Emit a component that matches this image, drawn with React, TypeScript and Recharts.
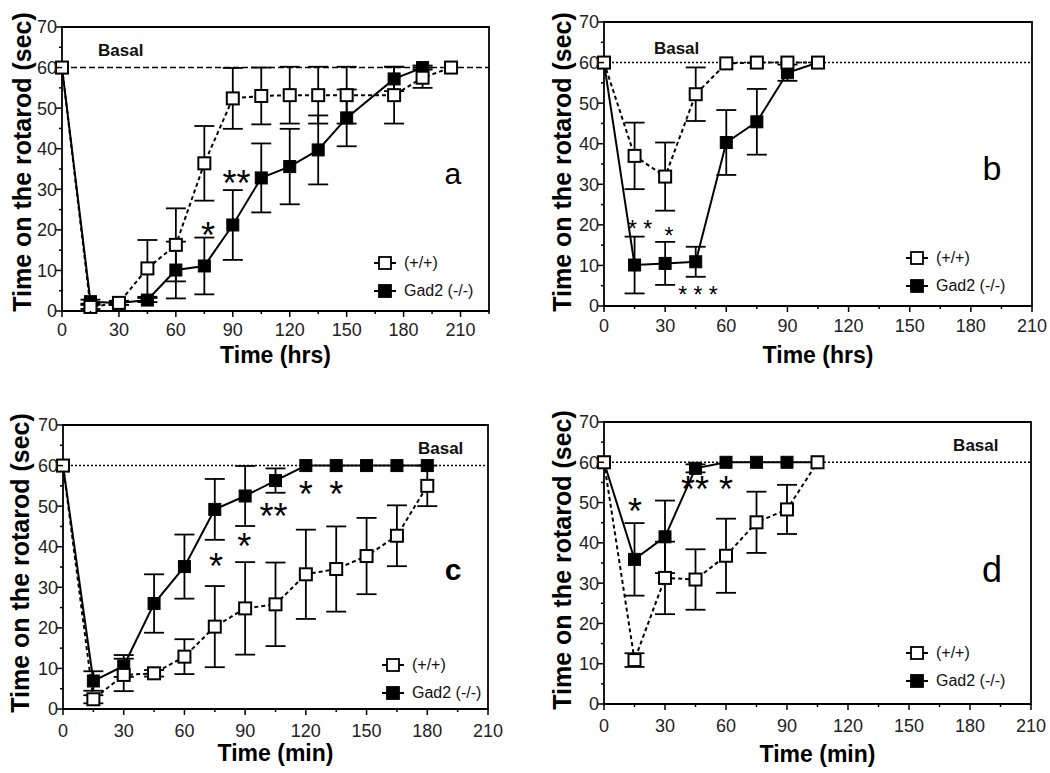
import React from "react";
import {
  LineChart,
  Line,
  XAxis,
  YAxis,
  ErrorBar,
  ReferenceLine,
  ReferenceArea,
  ReferenceDot,
  Legend,
  Label,
} from "recharts";

const FONT = "'Liberation Sans', Arial, Helvetica, sans-serif";

const seriesNames = ["(+/+)", "Gad2 (-/-)"];

// panel a (hrs)
const timeA = [0, 15, 30, 45, 60, 75, 90, 105, 120, 135, 150, 175, 190, 205];
const wtA = [60, 1, 2, 10.5, 16.3, 36.4, 52.4, 53, 53.2, 53.2, 53.2, 53.2, 57.5, 60];
const wtErrA = [0, 0.5, 0.5, 7, 9, 9.2, 7.5, 7, 7, 7, 7, 7, 2.5, 0];
const koA = [60, 2.3, 2, 2.7, 10.1, 11.1, 21.2, 32.8, 35.6, 39.7, 47.6, 57.2, 60, null];
const koErrA = [0, 0.5, 0.5, 0.5, 7, 7, 8.6, 8.5, 9.3, 8.5, 7, 3, 0.5, null];

// panel b (hrs)
const timeB = [0, 15, 30, 45, 60, 75, 90, 105];
const wtB = [60, 37, 31.9, 52.2, 59.8, 60, 60, 60];
const wtErrB = [0, 8.2, 8.4, 6.6, 0, 0, 0, 0];
const koB = [60, 10.1, 10.5, 10.9, 40.3, 45.4, 57.5, 60];
const koErrB = [0, 7, 5.3, 3.7, 8, 8.1, 2, 0];

// panel c (min)
const timeC = [0, 15, 30, 45, 60, 75, 90, 105, 120, 135, 150, 165, 180];
const wtC = [60, 2.4, 8.4, 8.8, 12.9, 20.3, 24.8, 25.8, 33.2, 34.5, 37.7, 42.7, 55];
const wtErrC = [0, 1, 4, 0.8, 4.3, 10, 11.4, 10.3, 11, 10.5, 9.4, 7.5, 5];
const koC = [60, 6.9, 10.6, 26, 35.1, 49.2, 52.5, 56.3, 60, 60, 60, 60, 60];
const koErrC = [0, 2.4, 2.7, 7.2, 7.9, 7.5, 7.4, 3, 0, 0, 0, 0, 0];

// panel d (min)
const timeD = [0, 15, 30, 45, 60, 75, 90, 105];
const wtD = [60, 10.9, 31.3, 30.9, 36.8, 45.1, 48.3, 60];
const wtErrD = [0, 1.7, 9, 7.5, 9.2, 7.6, 6.1, 0];
const koD = [60, 35.9, 41.5, 58.5, 60, 60, 60, 60];
const koErrD = [0, 9, 9, 1, 0, 0, 0, 0];

// significance marks: [x, y, text]
const starsA: [number, number, string][] = [[77, 20.7, "*"], [92, 33.5, "**"]];
const starsB: [number, number, string][] = [[17.7, 20.2, "* *"], [31.9, 18.6, "*"], [46.1, 4.1, "* * *"]];
const starsC: [number, number, string][] = [[75.6, 37.2, "*"], [89.6, 42.1, "*"], [104, 49.5, "**"], [120, 55, "*"], [135, 55, "*"]];
const starsD: [number, number, string][] = [[15.2, 49.9, "*"], [44.8, 55.4, "**"], [60, 55.4, "*"]];

const yTicks = [0, 5, 10, 15, 20, 25, 30, 35, 40, 45, 50, 55, 60, 65, 70];

const rows = (t: number[], wt: (number | null)[], wtErr: (number | null)[], ko: (number | null)[], koErr: (number | null)[]) =>
  t.map((x, i) => ({ t: x, wt: wt[i], wtErr: wtErr[i], ko: ko[i], koErr: koErr[i] }));

const panels = [
  {
    id: "a", left: 0, top: 0, w: 525, h: 386, plot: { l: 62, t: 27, r: 489, b: 311 }, xMax: 225,
    unit: "Time (hrs)", data: rows(timeA, wtA, wtErrA, koA, koErrA), refDash: "6 3",
    letter: { x: 206, y: 34, size: 30, bold: false }, basal: [19, 64.3], stars: starsA, starSize: 36,
    legend: { x: 385, y: 263 }, yLabel: { x: 22, dy: -7 }, xBase: 363, tickDy: 25,
  },
  {
    id: "b", left: 530, top: 0, w: 520, h: 386, plot: { l: 604, t: 22, r: 1032, b: 306 }, xMax: 210,
    unit: "Time (hrs)", data: rows(timeB, wtB, wtErrB, koB, koErrB), refDash: "2 2",
    letter: { x: 190.4, y: 34, size: 34, bold: false }, basal: [24.5, 63.6], stars: starsB, starSize: 23,
    legend: { x: 917, y: 258 }, yLabel: { x: 562, dy: -2 }, xBase: 363, tickDy: 26,
  },
  {
    id: "c", left: 0, top: 386, w: 525, h: 387, plot: { l: 63, t: 425, r: 488, b: 709 }, xMax: 210,
    unit: "Time (min)", data: rows(timeC, wtC, wtErrC, koC, koErrC), refDash: "2 2",
    letter: { x: 192.7, y: 34.5, size: 30, bold: true }, basal: [175.4, 64.3], stars: starsC, starSize: 36,
    legend: { x: 393, y: 665 }, yLabel: { x: 20, dy: -4 }, xBase: 761, tickDy: 28,
  },
  {
    id: "d", left: 530, top: 386, w: 520, h: 387, plot: { l: 604, t: 422, r: 1031, b: 704 }, xMax: 210,
    unit: "Time (min)", data: rows(timeD, wtD, wtErrD, koD, koErrD), refDash: "2 2",
    letter: { x: 190.8, y: 33.4, size: 36, bold: false }, basal: [171.7, 64.3], stars: starsD, starSize: 36,
    legend: { x: 917, y: 653 }, yLabel: { x: 562, dy: -3 }, xBase: 762, tickDy: 28,
  },
];

const YTick = (props: any) => {
  const { x, y, payload } = props;
  const v = payload.value;
  const major = v % 10 === 0;
  return (
    <g>
      <line x1={x} x2={x - (major ? 6 : 3)} y1={y} y2={y} stroke="#000" strokeWidth={1.5} />
      {major && (
        <text x={x - 5} y={y + 6.4} textAnchor="end" fontSize={18} fontFamily={FONT} fill="#222">
          {v}
        </text>
      )}
    </g>
  );
};

const makeXTick = (dy: number) => (props: any) => {
  const { x, y, payload } = props;
  const v = payload.value;
  const major = v % 30 === 0 && v <= 210;
  return (
    <g>
      <line x1={x} x2={x} y1={y} y2={y + (major ? 6 : 3)} stroke="#000" strokeWidth={1.5} />
      {major && (
        <text x={x} y={y + dy} textAnchor="middle" fontSize={18} fontFamily={FONT} fill="#222">
          {v}
        </text>
      )}
    </g>
  );
};

const openDot = (p: any) =>
  p.cx == null || p.cy == null || p.value == null ? (
    <g key={`o${p.index}`} />
  ) : (
    <rect key={`o${p.index}`} x={p.cx - 6} y={p.cy - 6} width={12} height={12} fill="#fff" stroke="#000" strokeWidth={2} />
  );

const filledDot = (p: any) =>
  p.cx == null || p.cy == null || p.value == null ? (
    <g key={`f${p.index}`} />
  ) : (
    <rect key={`f${p.index}`} x={p.cx - 6} y={p.cy - 6} width={12} height={12} fill="#000" stroke="#000" strokeWidth={1} />
  );

const LegendBox = () => (
  <div style={{ fontFamily: FONT, fontSize: 16, color: "#111" }}>
    {seriesNames.map((name, i) => (
      <div key={name} style={{ display: "flex", alignItems: "center", height: 28, whiteSpace: "nowrap" }}>
        <svg width={22} height={14} style={{ marginRight: 8 }}>
          <line x1={0} x2={22} y1={7} y2={7} stroke="#000" strokeWidth={2} />
          <rect x={5} y={1} width={12} height={12} fill={i === 0 ? "#fff" : "#000"} stroke="#000" strokeWidth={1.8} />
        </svg>
        <span>{name}</span>
      </div>
    ))}
  </div>
);

function Panel({ cfg }: { cfg: (typeof panels)[number] }) {
  const { plot } = cfg;
  const margin = {
    top: plot.t - cfg.top,
    right: cfg.left + cfg.w - plot.r,
    left: 0,
    bottom: 0,
  };
  const yWidth = plot.l - cfg.left;
  const xHeight = cfg.top + cfg.h - plot.b;
  const xTicks: number[] = [];
  for (let v = 0; v <= cfg.xMax; v += 15) xTicks.push(v);

  return (
    <div style={{ position: "absolute", left: cfg.left, top: cfg.top }}>
      <LineChart width={cfg.w} height={cfg.h} data={cfg.data} margin={margin}>
        <XAxis
          dataKey="t"
          type="number"
          domain={[0, cfg.xMax]}
          ticks={xTicks}
          interval={0}
          tickSize={0}
          tickMargin={0}
          height={xHeight}
          axisLine={false}
          tickLine={false}
          tick={makeXTick(cfg.tickDy)}
        >
          <Label
            value={cfg.unit}
            position="insideBottom"
            offset={cfg.top + cfg.h - cfg.xBase}
            fontSize={23}
            fontWeight="bold"
            fontFamily={FONT}
            fill="#000"
          />
        </XAxis>
        <YAxis
          type="number"
          domain={[0, 70]}
          ticks={yTicks}
          interval={0}
          tickSize={0}
          tickMargin={0}
          width={yWidth}
          axisLine={false}
          tickLine={false}
          tick={<YTick />}
        >
          <Label
            value="Time on the rotarod (sec)"
            position="insideLeft"
            angle={-90}
            offset={cfg.yLabel.x - cfg.left}
            dy={cfg.yLabel.dy}
            fontSize={25}
            fontWeight="bold"
            fontFamily={FONT}
            fill="#000"
            style={{ textAnchor: "middle" }}
          />
        </YAxis>
        <ReferenceArea x1={0} x2={cfg.xMax} y1={0} y2={70} fill="none" stroke="#000" strokeWidth={1.8} fillOpacity={0} />
        <ReferenceLine y={60} stroke="#000" strokeWidth={1.5} strokeDasharray={cfg.refDash} />
        <ReferenceDot
          x={cfg.basal[0]}
          y={cfg.basal[1]}
          r={0}
          fill="none"
          stroke="none"
          label={{ value: "Basal", position: "right", offset: 0, fontSize: 17, fontWeight: "bold", fontFamily: FONT, fill: "#111" }}
        />
        <ReferenceDot
          x={cfg.letter.x}
          y={cfg.letter.y}
          r={0}
          fill="none"
          stroke="none"
          label={{
            value: cfg.id,
            position: "center",
            fontSize: cfg.letter.size,
            fontWeight: cfg.letter.bold ? "bold" : "normal",
            fontFamily: FONT,
            fill: "#000",
          }}
        />
        {cfg.stars.map(([sx, sy, txt], i) => (
          <ReferenceDot
            key={`s${i}`}
            x={sx}
            y={sy}
            r={0}
            fill="none"
            stroke="none"
            label={{
              value: txt,
              position: "center",
              dy: cfg.starSize * 0.225,
              fontSize: cfg.starSize,
              fontFamily: FONT,
              fill: "#000",
            }}
          />
        ))}
        <Line
          dataKey="ko"
          name={seriesNames[1]}
          type="linear"
          stroke="#000"
          strokeWidth={2}
          dot={filledDot}
          activeDot={false}
          isAnimationActive={false}
        >
          <ErrorBar dataKey="koErr" direction="y" width={10} stroke="#000" strokeWidth={1.8} />
        </Line>
        <Line
          dataKey="wt"
          name={seriesNames[0]}
          type="linear"
          stroke="#000"
          strokeWidth={2}
          strokeDasharray="4 3"
          dot={openDot}
          activeDot={false}
          isAnimationActive={false}
        >
          <ErrorBar dataKey="wtErr" direction="y" width={10} stroke="#000" strokeWidth={1.8} />
        </Line>
        <Legend
          layout="vertical"
          align="center"
          verticalAlign="middle"
          content={<LegendBox />}
          wrapperStyle={{ left: cfg.legend.x - 11 - cfg.left, top: cfg.legend.y - 14 - cfg.top, width: 160, height: 56 }}
        />
      </LineChart>
    </div>
  );
}

export default function App() {
  return (
    <div style={{ position: "absolute", left: 0, top: 0, width: 1050, height: 773, background: "#fff", fontFamily: FONT }}>
      {panels.map((p) => (
        <Panel key={p.id} cfg={p} />
      ))}
    </div>
  );
}
